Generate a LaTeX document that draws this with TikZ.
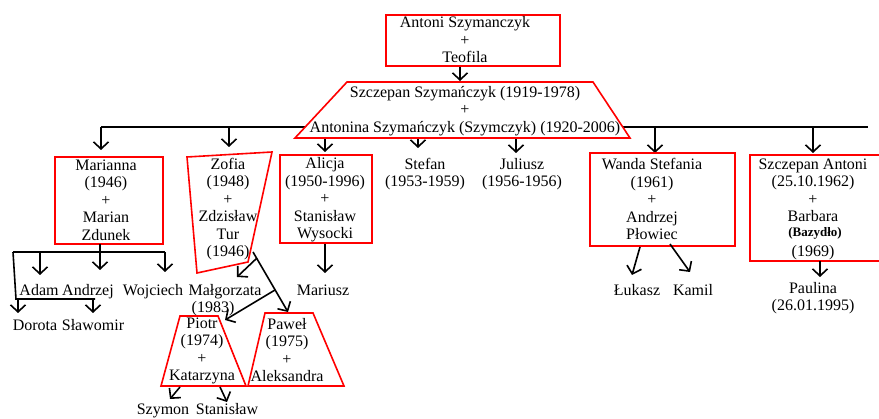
\documentclass[tikz,border=0pt]{standalone}
\usepackage{fontspec}
\setmainfont{Liberation Serif}
\usetikzlibrary{arrows.meta}
\begin{document}
\begin{tikzpicture}[x=1pt,y=-1pt,
  txt/.style={align=center, inner sep=0pt, font=\fontsize{16}{17.5}\selectfont},
  lbl/.style={anchor=base, inner sep=0pt, font=\fontsize{16}{17.5}\selectfont},
  redrect/.style={draw=red, line width=1.6pt, inner sep=0pt},
  redline/.style={draw=red, line width=1.6pt, line join=miter},
  blk/.style={draw=black, line width=1.6pt},
  arr/.style={draw=black, line width=1.6pt, -{Straight Barb[length=7pt,width=15pt]}}]
\useasboundingbox[fill=white] (0,0) rectangle (879,419);

% ---- top couple
\node[redrect, minimum width=174pt, minimum height=51pt] (bTop) at (473,40.5) {};
\node[txt] (tTop) at (465,40) {Antoni Szymanczyk\\+\\Teofila};
\coordinate (aTop) at (460,81);
\draw[arr] (bTop.south -| aTop) -- (aTop);

% ---- main horizontal line and drops
\coordinate (hL) at (101,127);
\coordinate (hR) at (868,127);
\draw[blk] (hL) -- (hR);
\coordinate (d1) at (101,150);
\coordinate (d2) at (229,147);
\coordinate (d3) at (325,152);
\coordinate (d4) at (418,148);
\coordinate (d5) at (516,153);
\coordinate (d6) at (655,153);
\coordinate (d7) at (813,153);
\foreach \d in {d1,d2,d3,d4,d5,d6,d7} \draw[arr] (\d |- hL) -- (\d);

% ---- parents trapezoid
\coordinate (z1) at (347,82);
\coordinate (z2) at (593,82);
\coordinate (z3) at (630,138);
\coordinate (z4) at (295,138);
\filldraw[redline, fill=white] (z1) -- (z2) -- (z3) -- (z4) -- cycle;
\node[txt] (tPar) at (465,111) {Szczepan Szymańczyk (1919-1978)\\+\\Antonina Szymańczyk (Szymczyk) (1920-2006)};

% ---- Marianna
\node[redrect, minimum width=108pt, minimum height=87pt] (bMar) at (109,200.5) {};
\node[txt] (tMar) at (106,200) {Marianna\\(1946)\\+\\Marian\\Zdunek};
\coordinate (mB) at (100,244);
\coordinate (cAnd) at (100,270);
\draw[arr] (mB) -- (cAnd);
\coordinate (mL) at (13,252);
\coordinate (mR) at (165,252);
\draw[blk] (mL) -- (mR);
\coordinate (cAdam) at (40,275);
\draw[arr] (cAdam |- mL) -- (cAdam);
\coordinate (cWoj) at (165,272);
\draw[arr] (mR) -- (cWoj);
\coordinate (dL) at (16,299);
\coordinate (dR) at (95,299);
\draw[blk] (mL) -- (dL) -- (dR);
\coordinate (cDor) at (18,313);
\coordinate (cSla) at (93,313);
\draw[arr] (cDor |- dL) -- (cDor);
\draw[arr] (cSla |- dR) -- (cSla);
\node[lbl] (tAdam) at (39,296) {Adam};
\node[lbl] (tAnd) at (88,296) {Andrzej};
\node[lbl] (tWoj) at (153,296) {Wojciech};
\node[lbl] (tDor) at (35,331) {Dorota};
\node[lbl] (tSla) at (93,331) {Sławomir};

% ---- Zofia
\coordinate (f1) at (187,157);
\coordinate (f2) at (272,152);
\coordinate (f3) at (248,262);
\coordinate (f4) at (197,273);
\draw[redline] (f1) -- (f2) -- (f3) -- (f4) -- cycle;
\node[txt] (tZof) at (228,209) {Zofia\\(1948)\\+\\Zdzisław\\Tur\\(1946)};
\coordinate (zA) at (253,252);
\coordinate (zP) at (288,312);
\draw[arr] (zA) -- (zP);
\coordinate (zB) at (257,258);
\coordinate (zM) at (237,277);
\draw[arr] (zB) -- (zM);
\coordinate (zC) at (275,290);
\coordinate (zQ) at (225,320);
\draw[arr] (zC) -- (zQ);
\node[lbl] (tMal) at (225,296) {Małgorzata};
\node[lbl] (tMal2) at (213,313) {(1983)};

% ---- Piotr
\coordinate (p1) at (180,316);
\coordinate (p2) at (218,316);
\coordinate (p3) at (246,386);
\coordinate (p4) at (161,386);
\draw[redline] (p1) -- (p2) -- (p3) -- (p4) -- cycle;
\node[txt] (tPio) at (202,351) {Piotr\\(1974)\\+\\Katarzyna};
\coordinate (pA) at (180,387);
\coordinate (pS) at (170,399);
\coordinate (pB) at (220,387);
\coordinate (pT) at (227,402);
\draw[arr] (pA) -- (pS);
\draw[arr] (pB) -- (pT);
\node[lbl] (tSzy) at (163,415) {Szymon};
\node[lbl] (tSta) at (227,415) {Stanisław};

% ---- Pawel
\coordinate (w1) at (265,313);
\coordinate (w2) at (313,313);
\coordinate (w3) at (344,386);
\coordinate (w4) at (248,386);
\draw[redline] (w1) -- (w2) -- (w3) -- (w4) -- cycle;
\node[txt] (tPaw) at (287,350) {Paweł\\(1975)\\+\\Aleksandra};

% ---- Alicja
\node[redrect, minimum width=92pt, minimum height=88pt] (bAli) at (326,199) {};
\node[txt] (tAli) at (325,200) {Alicja\\(1950-1996)\\+\\Stanisław\\Wysocki};
\coordinate (aM) at (325,273);
\draw[arr] (bAli.south -| aM) -- (aM);
\node[lbl] (tMarz) at (323,296) {Mariusz};

% ---- Stefan, Juliusz
\node[txt] (tSte) at (425,174) {Stefan\\(1953-1959)};
\node[txt] (tJul) at (522,174) {Juliusz\\(1956-1956)};

% ---- Wanda
\node[redrect, minimum width=145pt, minimum height=93pt] (bWan) at (662.5,199.5) {};
\node[txt] (tWan) at (652,199) {Wanda Stefania\\(1961)\\+\\Andrzej\\Płowiec};
\coordinate (wA) at (640,247);
\coordinate (wL) at (632,275);
\coordinate (wB) at (670,244);
\coordinate (wK) at (690,272);
\draw[arr] (wA) -- (wL);
\draw[arr] (wB) -- (wK);
\node[lbl] (tLuk) at (637,296) {Łukasz};
\node[lbl] (tKam) at (693,296) {Kamil};

% ---- Szczepan Antoni
\coordinate (s1) at (882,155);
\coordinate (s2) at (750,155);
\coordinate (s3) at (750,261);
\coordinate (s4) at (882,261);
\draw[redline] (s1) -- (s2) -- (s3) -- (s4);
\node[txt] (tSzA) at (813,190.5) {Szczepan Antoni\\(25.10.1962)\\+\\Barbara};
\node[txt, font=\bfseries\fontsize{13}{15}\selectfont] (tBaz) at (815,233) {(Bazydło)};
\node[txt] (t1969) at (813,253) {(1969)};
\coordinate (sT) at (820,277);
\draw[arr] (s3 -| sT) -- (sT);
\node[txt] (tPau) at (813,298) {Paulina\\(26.01.1995)};
\end{tikzpicture}
\end{document}
